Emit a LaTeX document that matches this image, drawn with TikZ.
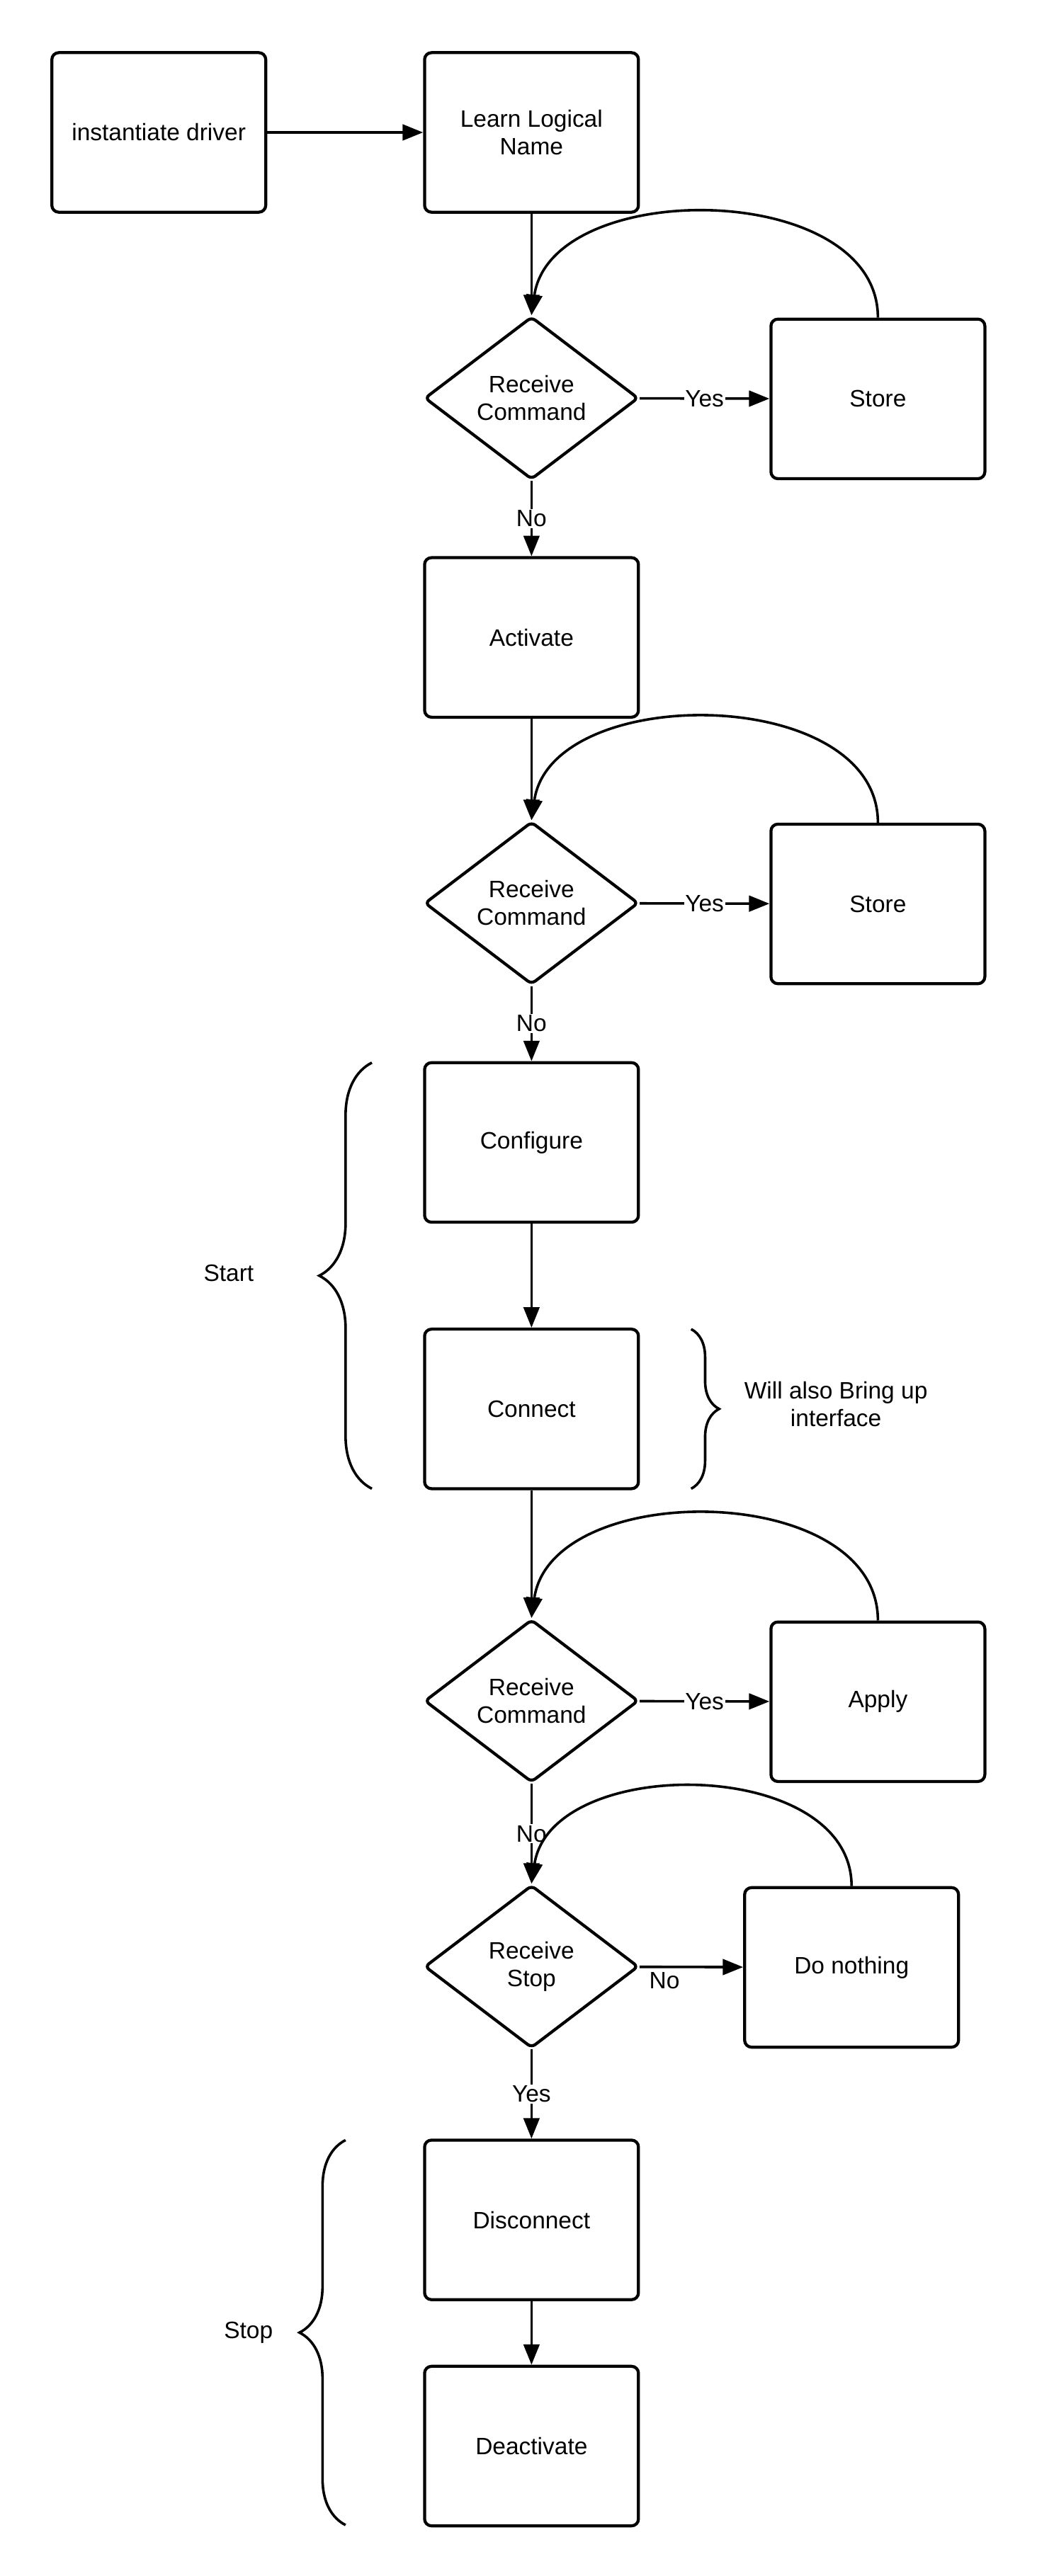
\documentclass[tikz,border=0pt]{standalone}
\usepackage{fontspec}
\setmainfont{Liberation Sans}
\usetikzlibrary{arrows.meta,shapes.geometric,decorations.pathreplacing}

\begin{document}
\begin{tikzpicture}
                [
                x=0.05cm, y=-0.05cm,
                every node/.style={font=\fontsize{20.5}{24}\selectfont, align=center},
                block/.style={rectangle,rounded corners=6pt,line width=2.6pt,draw,minimum width=6.5cm,minimum height=4.85cm},
                decision/.style={diamond,rounded corners=4pt,line width=2.6pt,draw,minimum width=6.5cm,minimum height=4.95cm,aspect=1.3,inner sep=0pt},
                edge/.style={line width=2.2pt,-{Triangle[length=0.62cm,width=0.48cm]}},
                edgetext/.style={fill=white,inner sep=1pt},
                curly/.style={line width=2.2pt,decorate}
                ]
            \useasboundingbox (0,0) rectangle (630,1566);
            \node[block] (1) at (96.5,80.5) {instantiate driver};
            \node[block] (2) at (323,80.5) {Learn Logical\\Name};
            \node[decision] (3) at (323,242) {Receive\\Command};
            \node[block] (4) at (533.5,242.5) {Store};
            \node[block] (5) at (323,387.5) {Activate};
            \node[decision] (6) at (323,549) {Receive\\Command};
            \node[block] (7) at (533.5,549.5) {Store};
            \node[block] (8) at (323,694.5) {Configure};
            \node[block] (9) at (323,856.5) {Connect};
            \node[decision] (10) at (323,1034) {Receive\\Command};
            \node[block] (11) at (533.5,1034.5) {Apply};
            \node[decision] (12) at (323,1195.5) {Receive\\Stop};
            \node[block] (13) at (517.5,1196) {Do nothing};
            \node[block] (14) at (323,1349.5) {Disconnect};
            \node[block] (15) at (323,1487) {Deactivate};
            \node (start) at (139,774) {Start};
            \node (also) at (508,853.5) {Will also Bring up\\interface};
            \node (stop) at (151,1418) {Stop};
            \draw[edge] (1) -- (2);
            \draw[edge] (2) -- (3);
            \draw[edge] (3) -- node[edgetext] {Yes} (4);
            \draw[edge] (4.north) .. controls +(0,-84) and +(12,-84) .. (3.north);
            \draw[edge] (3) -- node[edgetext] {No} (5);
            \draw[edge] (5) -- (6);
            \draw[edge] (6) -- node[edgetext] {Yes} (7);
            \draw[edge] (7.north) .. controls +(0,-84) and +(12,-84) .. (6.north);
            \draw[edge] (6) -- node[edgetext] {No} (8);
            \draw[edge] (8) -- (9);
            \draw[edge] (9) -- (10);
            \draw[edge] (10) -- node[edgetext] {Yes} (11);
            \draw[edge] (11.north) .. controls +(0,-85) and +(12,-85) .. (10.north);
            \draw[edge] (10) -- node[edgetext] {No} (12);
            \draw[edge] (12) -- node[below,pos=0.24] {No} (13);
            \draw[edge] (13.north) .. controls +(0,-79) and +(12,-79) .. (12.north);
            \draw[edge] (12) -- node[edgetext] {Yes} (14);
            \draw[edge] (14) -- (15);
            % braces
            \draw[curly,decoration={brace,amplitude=1.6cm}] (226,905) -- (226,646);
            \draw[curly,decoration={brace,amplitude=0.85cm}] (420,808) -- (420,905);
            \draw[curly,decoration={brace,amplitude=1.4cm}] (210,1535) -- (210,1301);
            \end{tikzpicture}
\end{document}
